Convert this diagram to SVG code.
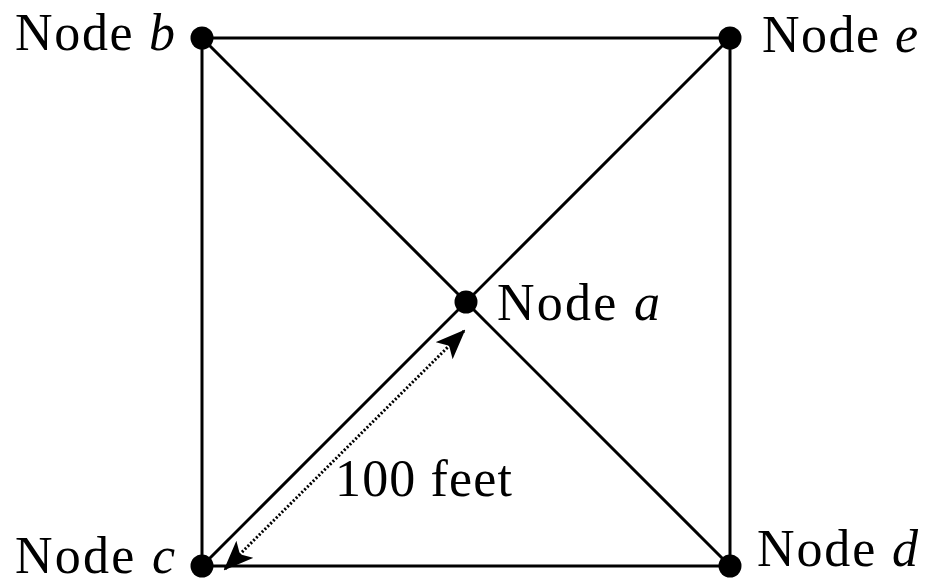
<svg xmlns="http://www.w3.org/2000/svg" width="927" height="580" viewBox="0 0 927 580">
<style>
.edge{stroke:#000;stroke-width:3;fill:none}
.dim{stroke:#000;stroke-width:3;stroke-dasharray:2 2;fill:none}
.dot{fill:#000}
text{font-family:"Liberation Serif","Times New Roman",serif;font-size:52px;fill:#000}
.i{font-style:italic}
</style>
<defs>
<marker id="ah" viewBox="0 0 30 24" refX="28" refY="12" markerWidth="30" markerHeight="24" markerUnits="userSpaceOnUse" orient="auto-start-reverse">
<path d="M0,0 L30,12 L0,24 L7,12 Z" fill="#000"/>
</marker>
</defs>
<g id="connectors">
<line class="edge" x1="202" y1="38" x2="730" y2="38"/>
<line class="edge" x1="202" y1="566" x2="730" y2="566"/>
<line class="edge" x1="202" y1="38" x2="202" y2="566"/>
<line class="edge" x1="730" y1="38" x2="730" y2="566"/>
<line class="edge" x1="202" y1="38" x2="730" y2="566"/>
<line class="edge" x1="730" y1="38" x2="202" y2="566"/>
<line class="dim" x1="225" y1="569" x2="464" y2="331" marker-start="url(#ah)" marker-end="url(#ah)"/>
<text x="335" y="496" textLength="177" lengthAdjust="spacing">100 feet</text>
</g>
<g id="node-a"><circle class="dot" cx="466" cy="302" r="11.5"/><text x="497" y="320" textLength="163" lengthAdjust="spacing">Node <tspan class="i">a</tspan></text></g>
<g id="node-b"><circle class="dot" cx="202" cy="38" r="11.5"/><text x="15" y="50" textLength="160" lengthAdjust="spacing">Node <tspan class="i">b</tspan></text></g>
<g id="node-c"><circle class="dot" cx="202" cy="566" r="11.5"/><text x="15" y="573" textLength="160" lengthAdjust="spacing">Node <tspan class="i">c</tspan></text></g>
<g id="node-d"><circle class="dot" cx="730" cy="566" r="11.5"/><text x="757" y="566" textLength="161" lengthAdjust="spacing">Node <tspan class="i">d</tspan></text></g>
<g id="node-e"><circle class="dot" cx="730" cy="38" r="11.5"/><text x="762" y="52" textLength="156" lengthAdjust="spacing">Node <tspan class="i">e</tspan></text></g>
</svg>
